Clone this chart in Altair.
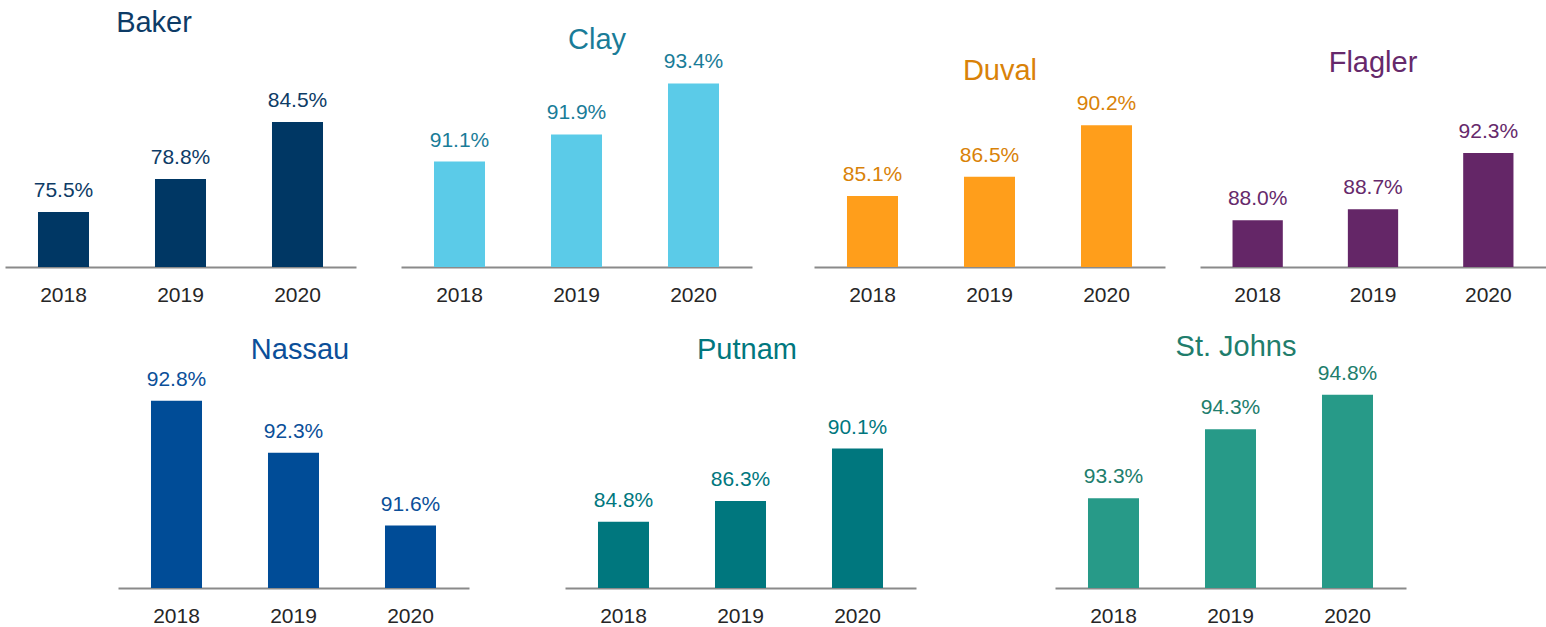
import altair as alt
import pandas as pd

# ---------------- data ----------------
counties = ["Baker", "Clay", "Duval", "Flagler", "Nassau", "Putnam", "St. Johns"]
years = ["2018", "2019", "2020"]
baker = [75.5, 78.8, 84.5]
clay = [91.1, 91.9, 93.4]
duval = [85.1, 86.5, 90.2]
flagler = [88.0, 88.7, 92.3]
nassau = [92.8, 92.3, 91.6]
putnam = [84.8, 86.3, 90.1]
st_johns = [93.3, 94.3, 94.8]
series = [baker, clay, duval, flagler, nassau, putnam, st_johns]

bar_colors = ["#003764", "#5BCBE8", "#FF9E1B", "#642667", "#004C97", "#00777E", "#279A88"]
text_colors = ["#0D3B66", "#1A7C98", "#D98208", "#66296B", "#0B4F99", "#00777E", "#217D6C"]

# ---------------- layout / style ----------------
FONT = "Liberation Sans"
TOP_H = 267
BOT_H = 283
# per panel: axis minimum, pixels per percentage point, width, title centre x, title baseline y
style = {
    "Baker":     dict(ymin=70, ppu=10.0, width=351, tx=149, ty=32),
    "Clay":      dict(ymin=88, ppu=34.0, width=351, tx=196, ty=49),
    "Duval":     dict(ymin=80, ppu=13.9, width=351, tx=186, ty=80),
    "Flagler":   dict(ymin=85, ppu=15.6, width=346, tx=173, ty=72),
    "Nassau":    dict(ymin=91, ppu=104.0, width=351, tx=182, ty=54),
    "Putnam":    dict(ymin=80, ppu=13.8, width=351, tx=182, ty=54),
    "St. Johns": dict(ymin=92, ppu=69.0, width=351, tx=181, ty=51),
}


def panel(i, height):
    name = counties[i]
    st = style[name]
    vals = series[i]
    df = pd.DataFrame({
        "year": years,
        "value": vals,
        "label": [f"{v:.1f}%" for v in vals],
    })
    ymax = st["ymin"] + height / st["ppu"]
    x = alt.X(
        "year:N", sort=years, title=None,
        scale=alt.Scale(paddingInner=0.564, paddingOuter=0.282),
        axis=alt.Axis(labelAngle=0, ticks=False, tickSize=0, domainColor="#8A8A8A",
                      domainWidth=2, labelFontSize=21, labelColor="#262626",
                      labelFont=FONT, labelPadding=17, grid=False),
    )
    y = alt.Y("value:Q", scale=alt.Scale(domain=[st["ymin"], ymax], zero=False, nice=False), axis=None)
    base = alt.Chart(df)
    bars = base.mark_bar(color=bar_colors[i], clip=True).encode(x=x, y=y, y2=alt.datum(st["ymin"]))
    labels = base.mark_text(font=FONT, fontSize=21, color=text_colors[i], baseline="alphabetic",
                            dy=-15).encode(x=x, y=y, text="label:N")
    title = alt.Chart(pd.DataFrame({"county": [name]})).mark_text(
        font=FONT, fontSize=29, color=text_colors[i], baseline="alphabetic", align="center"
    ).encode(x=alt.value(st["tx"]), y=alt.value(st["ty"]), text="county:N")
    return alt.layer(bars, labels, title).properties(width=st["width"], height=height)


def spacer(w, h):
    return alt.Chart(pd.DataFrame({"s": [0]})).mark_point(opacity=0, size=0).encode(
        x=alt.X("s:Q", axis=None), y=alt.Y("s:Q", axis=None)
    ).properties(width=w, height=h)


top = alt.hconcat(
    spacer(5, TOP_H), panel(0, TOP_H), spacer(45, TOP_H), panel(1, TOP_H),
    spacer(62, TOP_H), panel(2, TOP_H), spacer(35, TOP_H), panel(3, TOP_H),
    spacing=0,
).resolve_scale(x="independent", y="independent")

bottom = alt.hconcat(
    spacer(118, BOT_H), panel(4, BOT_H), spacer(96, BOT_H), panel(5, BOT_H),
    spacer(139, BOT_H), panel(6, BOT_H),
    spacing=0,
).resolve_scale(x="independent", y="independent")

chart = alt.vconcat(top, bottom, spacing=0).properties(padding=0, background="white").configure_view(
    stroke=None
).configure_concat(spacing=0)

chart.save("out.html", embed_options={"renderer": "svg", "actions": False})
